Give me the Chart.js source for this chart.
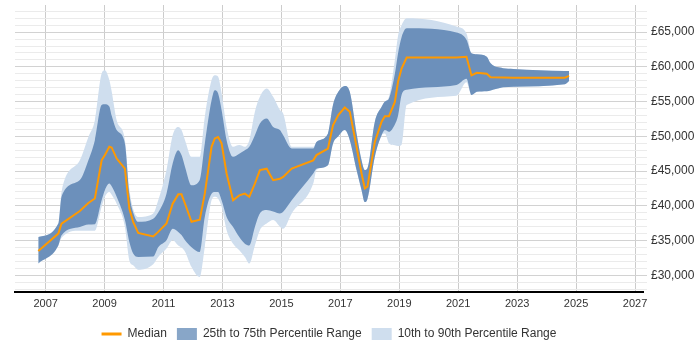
<!DOCTYPE html>
<html>
<head>
<meta charset="utf-8">
<script src="https://cdn.jsdelivr.net/npm/chart.js"></script>
<style>
  html, body { margin: 0; padding: 0; background: #fff; }
  #wrap { width: 700px; height: 350px; }
</style>
</head>
<body>
<div id="wrap"><canvas id="salary-chart"></canvas></div>
<script>
const years = [
  2006.75, 2007.43, 2007.54, 2008.16, 2008.45, 2008.67, 2008.90, 2009.01, 2009.16, 2009.24,
  2009.41, 2009.69, 2009.84, 2009.97, 2010.14, 2010.65, 2010.82, 2011.10, 2011.31, 2011.50,
  2011.61, 2011.73, 2011.95, 2012.23, 2012.40, 2012.63, 2012.74, 2012.85, 2012.97, 2013.14,
  2013.36, 2013.57, 2013.76, 2013.91, 2014.10, 2014.27, 2014.50, 2014.72, 2014.95, 2015.06,
  2015.35, 2016.08, 2016.19, 2016.58, 2016.75, 2016.93, 2017.15, 2017.32, 2017.55, 2017.72,
  2017.83, 2017.92, 2018.17, 2018.40, 2018.51, 2018.65, 2018.85, 2018.96, 2019.08, 2019.25,
  2020.94, 2021.28, 2021.45, 2021.63, 2021.97, 2022.10, 2022.52, 2022.87, 2024.62, 2024.76
];

const p10 = [
  31700, 34300, 35400, 36400, 36400, 36400, 39850, 41300, 42000, 41600,
  40300, 36950, 32150, 31450, 30800, 31600, 32650, 33850, 35050, 34300,
  34000, 33400, 31200, 29750, 34050, 40800, 41300, 41050, 39850, 36500,
  34550, 33600, 32650, 31700, 34300, 36500, 37450, 37950, 37000, 36700,
  38900, 43200, 45150, 45850, 48950, 50000, 50900, 49450, 45150, 42250,
  40550, 41000, 47050, 50150, 50400, 49000, 48700, 48600, 48800, 54500,
  55850, 57800, 55950, 56400, 56500, 56600, 57050, 57150, 57500, 57950
];

const p25 = [
  31700, 34300, 35750, 36950, 37300, 37350, 40800, 42250, 43200, 42800,
  41300, 37950, 34800, 33150, 32650, 32700, 34050, 35050, 36700, 36250,
  35800, 35050, 34050, 33350, 38400, 41750, 42000, 42000, 40800, 38400,
  36950, 35500, 34550, 34300, 36950, 38900, 39400, 39200, 38900, 39150,
  40800, 44650, 45350, 45850, 48950, 50000, 50900, 49450, 45150, 42250,
  40550, 41000, 47050, 50150, 50900, 50650, 51700, 53000, 56000, 56700,
  57400, 58300, 55950, 56400, 56500, 56600, 57050, 57150, 57500, 57950
];

const median = [
  33500, 36000, 37450, 39250, 40400, 41050, 46550, 47300, 48500, 48400,
  46800, 45350, 39600, 37700, 36100, 35600, 36250, 37450, 40300, 41650,
  41650, 40300, 37700, 38000, 41750, 48500, 49700, 49900, 49000, 44650,
  40800, 41500, 41750, 41300, 43200, 45150, 45350, 43700, 43900, 44150,
  45350, 46550, 47300, 48250, 51600, 53050, 54150, 53550, 48500, 44650,
  42500, 42750, 49200, 52100, 52900, 52900, 54950, 57900, 59800, 61350,
  61350, 61450, 58770, 59150, 59000, 58500, 58450, 58430, 58430, 58700
];

const p75 = [
  35500, 37450, 41300, 43700, 46550, 49450, 54500, 54600, 54300, 53000,
  50900, 48950, 41750, 39050, 37700, 38150, 39050, 41750, 46100, 48000,
  47300, 45600, 42950, 43700, 48950, 55200, 56650, 56200, 53800, 49450,
  47050, 47500, 48000, 48500, 50150, 51850, 52550, 51350, 50900, 50150,
  48250, 48250, 49200, 50400, 54500, 56400, 57250, 56400, 50400, 46550,
  45150, 45400, 52100, 54250, 55000, 55450, 59000, 62000, 64300, 65550,
  64950, 63900, 61950, 61800, 61450, 60500, 59800, 59700, 59400, 59400
];

const p90 = [
  35500, 37450, 42000, 46550, 49900, 52300, 59050, 59500, 58100, 56500,
  52300, 49450, 42450, 39550, 38400, 38900, 40800, 45150, 50150, 51350,
  50900, 49450, 47050, 47050, 52800, 58100, 58800, 58600, 56200, 51350,
  48500, 48750, 48500, 49450, 53550, 55700, 56900, 55700, 53800, 53300,
  48500, 48500, 49200, 50400, 54500, 56400, 57250, 56400, 50400, 46550,
  45150, 45400, 52100, 54250, 55000, 55700, 61000, 64500, 66000, 67000,
  65800, 64800, 61950, 61800, 61450, 60500, 59800, 59700, 59400, 59400
];

const xTickYears = [2007, 2009, 2011, 2013, 2015, 2017, 2019, 2021, 2023, 2025, 2027];

const orange = '#ff9900';
const darkFill = 'rgb(108,144,187)';
const lightFill = 'rgb(207,222,238)';
const darkLegend = 'rgb(136,166,200)';
const textColor = '#333';

const toPoints = (vals) => years.map((x, i) => ({ x, y: vals[i] }));

const gridValues = [];
for (let v = 28000; v <= 68000; v += 1000) gridValues.push(v);

Chart.defaults.font.family = '"Liberation Sans", Arial, sans-serif';
Chart.defaults.font.size = 12;
Chart.defaults.color = textColor;

const band = {
  borderWidth: 0,
  borderColor: 'rgba(0,0,0,0)',
  pointRadius: 0,
  cubicInterpolationMode: 'monotone',
};

const data = {
  datasets: [
    {
      label: 'Median',
      data: toPoints(median),
      borderColor: orange,
      borderWidth: 2,
      pointRadius: 0,
      fill: false,
      order: 0,
    },
    { label: '25th to 75th Percentile Range', data: toPoints(p75), backgroundColor: darkFill, fill: '+1', order: 1, ...band },
    { label: 'p25', data: toPoints(p25), fill: false, order: 1, ...band },
    { label: '10th to 90th Percentile Range', data: toPoints(p90), backgroundColor: lightFill, fill: '+1', order: 2, ...band },
    { label: 'p10', data: toPoints(p10), fill: false, order: 2, ...band },
  ],
};

const options = {
  responsive: true,
  maintainAspectRatio: false,
  animation: false,
  layout: { padding: { left: 15, top: 5, right: 0, bottom: 0 } },
  scales: {
    x: {
      type: 'linear',
      min: 2005.96,
      max: 2027.27,
      afterBuildTicks: (scale) => {
        scale.ticks = xTickYears.map((v) => ({ value: v }));
      },
      afterFit: (scale) => {
        scale.height = 26;
        scale.paddingLeft = 0;
        scale.paddingRight = 0;
      },
      grid: { color: '#cccccc', drawTicks: false },
      border: { display: true, color: '#000', width: 2 },
      ticks: {
        autoSkip: false,
        maxRotation: 0,
        padding: 5,
        font: { size: 11 },
        color: textColor,
        callback: (v) => String(v),
      },
    },
    y: {
      type: 'linear',
      position: 'right',
      min: 27600,
      max: 68900,
      afterBuildTicks: (scale) => {
        scale.ticks = gridValues.map((v) => ({ value: v }));
      },
      afterFit: (scale) => {
        scale.width = 57;
        scale.paddingTop = 0;
        scale.paddingBottom = 0;
      },
      grid: {
        color: (ctx) => (ctx.tick && ctx.tick.value % 5000 === 0 ? '#d2d2d2' : '#ebebeb'),
        tickLength: 4,
      },
      border: { display: false },
      ticks: {
        autoSkip: false,
        padding: 4,
        color: textColor,
        callback: (v) => (v % 5000 === 0 ? '£' + v.toLocaleString('en-GB') : ''),
      },
    },
  },
  plugins: {
    tooltip: { enabled: false },
    legend: {
      position: 'bottom',
      fullSize: false,
      labels: {
        usePointStyle: true,
        pointStyleWidth: 20,
        boxHeight: 12,
        padding: 10,
        color: textColor,
        generateLabels: () => [
          { text: 'Median', pointStyle: 'line', strokeStyle: orange, fillStyle: orange, lineWidth: 3, fontColor: textColor, datasetIndex: 0 },
          { text: '25th to 75th Percentile Range', pointStyle: 'rect', strokeStyle: darkLegend, fillStyle: darkLegend, lineWidth: 0, fontColor: textColor, datasetIndex: 1 },
          { text: '10th to 90th Percentile Range', pointStyle: 'rect', strokeStyle: lightFill, fillStyle: lightFill, lineWidth: 0, fontColor: textColor, datasetIndex: 3 },
        ],
      },
    },
  },
};

new Chart(document.getElementById('salary-chart'), {
  type: 'line',
  data,
  options,
});
</script>
</body>
</html>
